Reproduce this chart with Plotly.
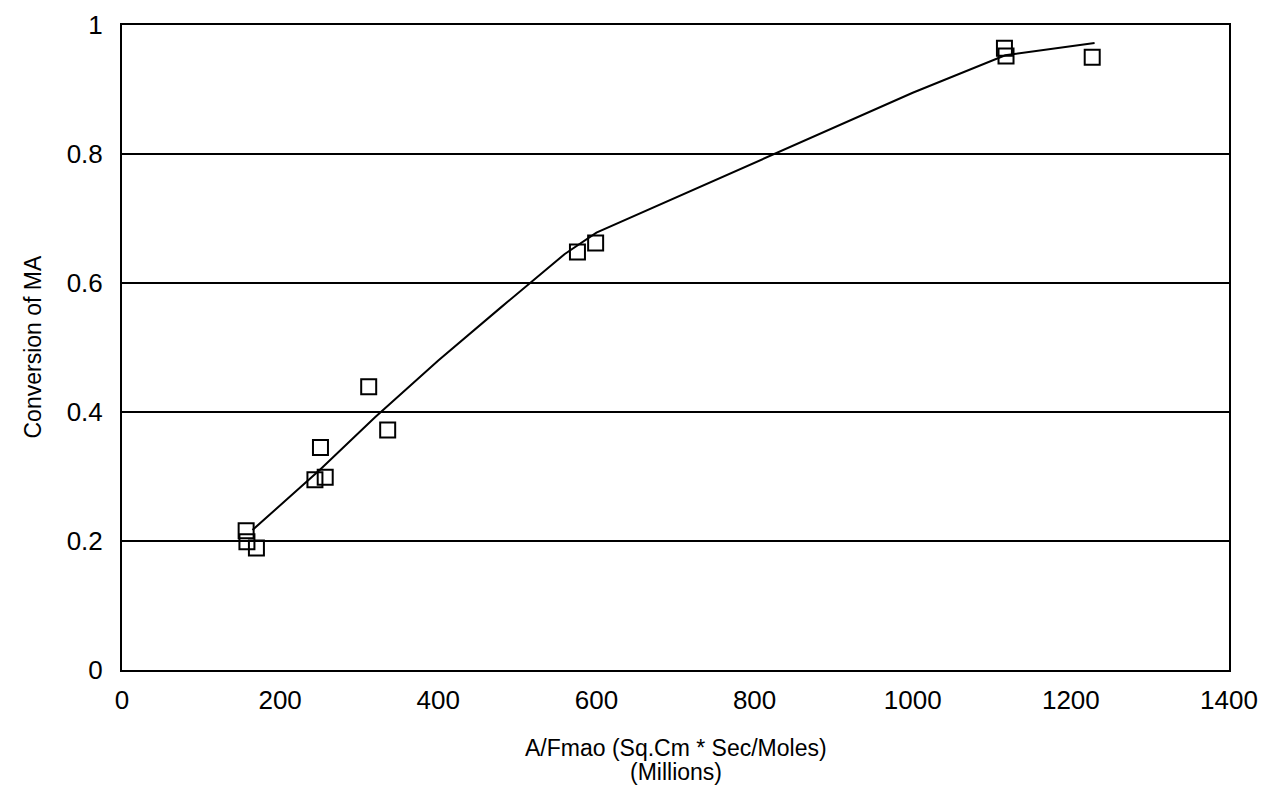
import plotly.graph_objects as go

# Measured data (A/Fmao in millions, conversion of MA)
x_obs = [157, 158, 170, 244, 251, 257, 312, 336, 576, 599, 1116, 1118, 1227]
y_obs = [0.216, 0.199, 0.189, 0.295, 0.345, 0.299, 0.439, 0.372, 0.648, 0.662, 0.964, 0.952, 0.950]

# Fitted curve
x_fit = [165, 250, 320, 400, 480, 560, 600, 800, 1000, 1117, 1230]
y_fit = [0.217, 0.310, 0.392, 0.480, 0.563, 0.645, 0.678, 0.787, 0.895, 0.953, 0.972]

x_ticks = [0, 200, 400, 600, 800, 1000, 1200, 1400]
y_ticks = [0, 0.2, 0.4, 0.6, 0.8, 1]
y_tick_text = ["0", "0.2", "0.4", "0.6", "0.8", "1"]

x_title_1 = "A/Fmao (Sq.Cm * Sec/Moles)"
x_title_2 = "(Millions)"
y_title = "Conversion of MA"

font_family = "Liberation Sans, Arial, sans-serif"

fig = go.Figure()
fig.add_trace(go.Scatter(
    x=x_fit, y=y_fit, mode="lines",
    line=dict(color="black", width=2),
    showlegend=False, hoverinfo="skip",
))
fig.add_trace(go.Scatter(
    x=x_obs, y=y_obs, mode="markers",
    marker=dict(symbol="square-open", size=15, color="black", line=dict(width=2, color="black")),
    showlegend=False,
))

# page body has an 8px margin; compensate so the plot lands where the reference has it
fig.update_layout(
    template="none",
    width=1252, height=794,
    margin=dict(l=114, r=31, t=17, b=132, autoexpand=False),
    paper_bgcolor="white", plot_bgcolor="white",
    font=dict(family=font_family, color="black", size=26),
    xaxis=dict(
        automargin=False,
        range=[0, 1400], tickvals=x_ticks, ticktext=[str(v) for v in x_ticks],
        showgrid=False, zeroline=False,
        showline=True, linecolor="black", linewidth=2, mirror=True,
        ticks="", ticklabelstandoff=6,
        tickfont=dict(size=26),
    ),
    yaxis=dict(
        automargin=False,
        range=[0, 1], tickvals=y_ticks, ticktext=y_tick_text,
        showgrid=True, gridcolor="black", gridwidth=2, zeroline=False,
        showline=True, linecolor="black", linewidth=2, mirror=True,
        ticks="", ticklabelstandoff=12,
        tickfont=dict(size=26),
    ),
    annotations=[
        dict(text=x_title_1, xref="paper", yref="paper", x=0.5, y=0,
             xanchor="center", yanchor="middle", yshift=-78, showarrow=False,
             font=dict(size=23)),
        dict(text=x_title_2, xref="paper", yref="paper", x=0.5, y=0,
             xanchor="center", yanchor="middle", yshift=-102, showarrow=False,
             font=dict(size=23)),
        dict(text=y_title, xref="paper", yref="paper", x=0, y=0.5,
             xanchor="center", yanchor="middle", xshift=-90, textangle=-90,
             showarrow=False, font=dict(size=23)),
    ],
)

fig.write_html("out.html")
